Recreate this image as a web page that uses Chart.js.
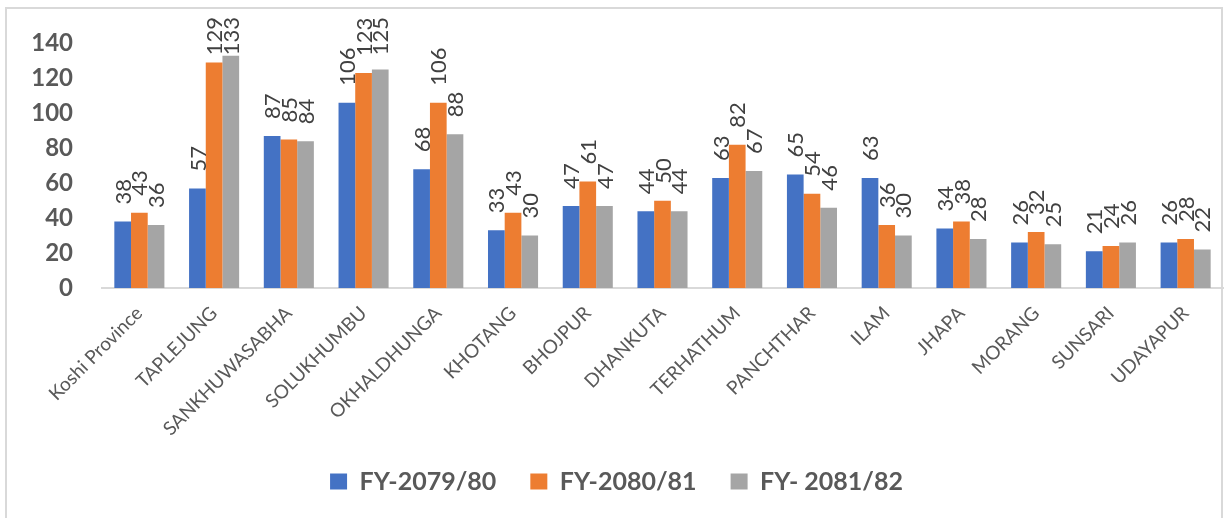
<!DOCTYPE html>
<html>
<head>
<meta charset="utf-8">
<script src="https://cdn.jsdelivr.net/npm/chart.js@4/dist/chart.umd.min.js"></script>
<style>
  html, body { margin: 0; padding: 0; background: #fff; }
  #wrap { width: 1227px; height: 518px; position: relative; }
</style>
</head>
<body>
<div id="wrap"><canvas id="c" width="1227" height="518"></canvas></div>
<script>
const categories = ["Koshi Province","TAPLEJUNG","SANKHUWASABHA","SOLUKHUMBU","OKHALDHUNGA","KHOTANG","BHOJPUR","DHANKUTA","TERHATHUM","PANCHTHAR","ILAM","JHAPA","MORANG","SUNSARI","UDAYAPUR"];
const fy2079 = [38,57,87,106,68,33,47,44,63,65,63,34,26,21,26];
const fy2080 = [43,129,85,123,106,43,61,50,82,54,36,38,32,24,28];
const fy2081 = [36,133,84,125,88,30,47,44,67,46,30,28,25,26,22];
const seriesNames = ["FY-2079/80","FY-2080/81","FY- 2081/82"];
const yTicks = [0,20,40,60,80,100,120,140];

const FONT = "Lato, 'Open Sans', sans-serif";

const frame = {
  id: 'frame',
  beforeDraw(chart) {
    const ctx = chart.ctx;
    ctx.save();
    ctx.fillStyle = '#fff';
    ctx.fillRect(0, 0, chart.width, chart.height);
    ctx.strokeStyle = '#d9d9d9';
    ctx.lineWidth = 2;
    ctx.strokeRect(6, 8, 1216, 530);
    ctx.restore();
  }
};

const valueLabels = {
  id: 'valueLabels',
  afterDatasetsDraw(chart) {
    const ctx = chart.ctx;
    ctx.save();
    ctx.font = "22px " + FONT;
    ctx.fillStyle = '#404040';
    ctx.textAlign = 'left';
    ctx.textBaseline = 'middle';
    chart.data.datasets.forEach((ds, di) => {
      const meta = chart.getDatasetMeta(di);
      meta.data.forEach((el, i) => {
        const txt = String(ds.data[i]);
        const w = ctx.measureText(txt).width;
        let start = el.y - 17;
        if (start - w < 17) start = 17 + w;
        ctx.save();
        ctx.translate(el.x + 1, start);
        ctx.rotate(-Math.PI / 2);
        ctx.fillText(txt, 0, 0);
        ctx.restore();
      });
    });
    ctx.restore();
  }
};

new Chart(document.getElementById('c'), {
  type: 'bar',
  data: {
    labels: categories,
    datasets: [
      { label: seriesNames[0], data: fy2079, backgroundColor: '#4472C4' },
      { label: seriesNames[1], data: fy2080, backgroundColor: '#ED7D31' },
      { label: seriesNames[2], data: fy2081, backgroundColor: '#A5A5A5' }
    ]
  },
  options: {
    responsive: false,
    animation: false,
    devicePixelRatio: 1,
    layout: { padding: { left: 10, right: 4, top: 40, bottom: 14 } },
    datasets: { bar: { categoryPercentage: 0.67, barPercentage: 1.0 } },
    scales: {
      x: {
        grid: { display: false, drawTicks: false },
        border: { display: true, color: '#d9d9d9', width: 2 },
        ticks: {
          color: '#595959',
          font: { family: FONT, size: 19 },
          minRotation: 45, maxRotation: 45,
          padding: 14,
          autoSkip: false
        },
        afterFit(scale) { scale.height = 147; }
      },
      y: {
        min: 0, max: 140,
        grid: { display: false, drawTicks: false },
        border: { display: false },
        afterBuildTicks(scale) { scale.ticks = yTicks.map(v => ({ value: v })); },
        ticks: {
          color: '#595959',
          font: { family: FONT, size: 24, weight: 'bold' },
          padding: 29
        },
        afterFit(scale) { scale.width = 92; }
      }
    },
    plugins: {
      legend: {
        position: 'bottom',
        labels: {
          color: '#595959',
          font: { family: FONT, size: 25, weight: 'bold' },
          boxWidth: 17, boxHeight: 16,
          padding: 34
        }
      },
      tooltip: { enabled: false }
    }
  },
  plugins: [frame, valueLabels]
});
</script>
</body>
</html>
